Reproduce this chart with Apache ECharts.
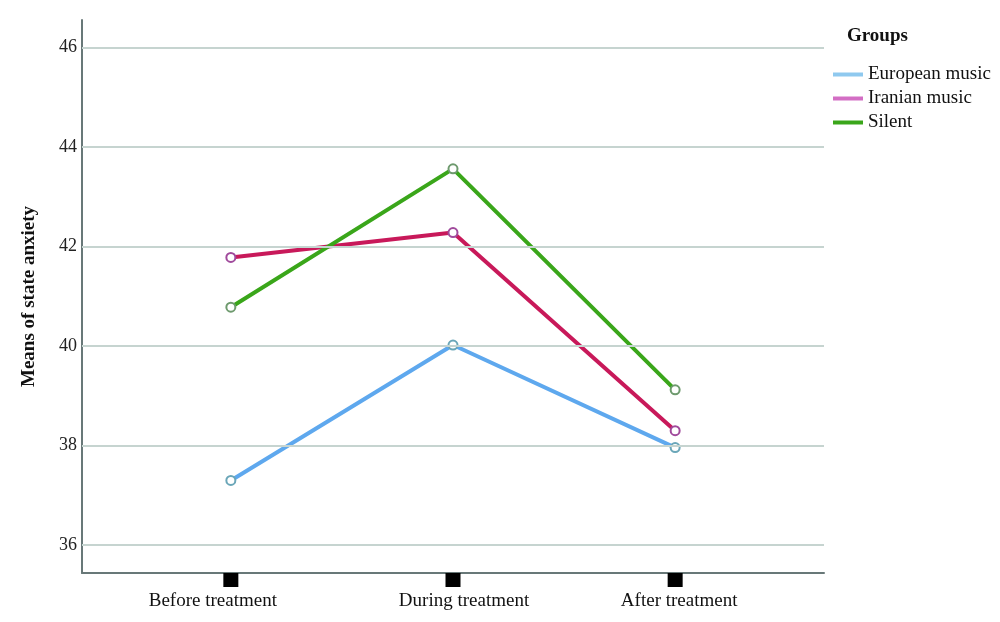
<!DOCTYPE html>
<html><head><meta charset="utf-8">
<script src="https://cdn.jsdelivr.net/npm/echarts@6/dist/echarts.min.js"></script>
<style>html,body{margin:0;padding:0;background:#fff}#c{width:1000px;height:622px}</style>
</head><body><div id="c"></div>
<script>
const categories = ['Before treatment', 'During treatment', 'After treatment'];
const seriesNames = ['European music', 'Iranian music', 'Silent'];
const european = [37.30, 40.02, 37.96];
const iranian = [41.78, 42.28, 38.30];
const silent = [40.78, 43.56, 39.12];
const yTicks = [36, 38, 40, 42, 44, 46];
const yMin = 35.44, yMax = 46.55;

const font = 'Liberation Serif';
const chart = echarts.init(document.getElementById('c'));
const idx = categories.map((_, i) => i);
const pts = arr => arr.map((v, i) => [i, v]);
// small per-label horizontal nudges, as in the reference
const labelPads = [[0, 36, 0, 0], [0, 0, 0, 22], [0, 0, 0, 8]];

function lineSeries(name, data, lineColor, markerColor) {
  return {
    name, type: 'line', data: pts(data), z: 3,
    symbol: 'emptyCircle', symbolSize: 9,
    lineStyle: { color: lineColor, width: 4 },
    itemStyle: { color: markerColor, borderWidth: 1.5 },
    emphasis: { disabled: true }
  };
}

const rich = {};
labelPads.forEach((p, i) => { rich['c' + i] = { padding: p, fontFamily: font, fontSize: 19, color: '#111' }; });

chart.setOption({
  animation: false,
  backgroundColor: '#fff',
  textStyle: { fontFamily: font },
  title: { text: 'Groups', left: 842, top: 22,
    textStyle: { fontFamily: font, fontSize: 19, fontWeight: 'bold', color: '#111' } },
  legend: {
    orient: 'vertical', left: 828, top: 60, itemWidth: 30, itemHeight: 4, itemGap: 5,
    icon: 'rect',
    textStyle: { fontFamily: font, fontSize: 19, color: '#111' },
    data: [
      { name: seriesNames[0], itemStyle: { color: '#8fc9ef' } },
      { name: seriesNames[1], itemStyle: { color: '#d36ec4' } },
      { name: seriesNames[2], itemStyle: { color: '#3aa61a' } }
    ]
  },
  grid: { left: 82, right: 176, top: 20, bottom: 49, containLabel: false, outerBoundsMode: 'none' },
  xAxis: {
    type: 'value', min: -0.67, max: 2.67,
    axisLine: { show: true, onZero: false, lineStyle: { color: '#687878', width: 2 } },
    axisTick: { show: false },
    splitLine: { show: false },
    axisLabel: { customValues: idx,
      formatter: v => { const i = Math.round(v); return categories[i] ? '{c' + i + '|' + categories[i] + '}' : ''; },
      rich, margin: 19, fontFamily: font, fontSize: 19, color: '#111' }
  },
  yAxis: {
    type: 'value', min: yMin, max: yMax,
    name: 'Means of state anxiety', nameLocation: 'middle', nameGap: 43,
    nameTextStyle: { fontFamily: font, fontSize: 19, fontWeight: 'bold', color: '#111' },
    axisLine: { show: true, onZero: false, lineStyle: { color: '#687878', width: 2 } },
    axisTick: { show: false },
    splitLine: { show: false },
    axisLabel: { customValues: yTicks, margin: 5, fontFamily: font, fontSize: 18, color: '#222' }
  },
  series: [
    lineSeries(seriesNames[0], european, '#5ea8ee', '#6aa6b8'),
    lineSeries(seriesNames[1], iranian, '#c8195a', '#a04a9c'),
    lineSeries(seriesNames[2], silent, '#3aa61a', '#6e9a6e'),
    {
      name: 'ticks', type: 'scatter', z: 1, silent: true, clip: false,
      data: idx.map(i => [i, yMin]),
      symbol: 'rect', symbolSize: [15, 14], symbolOffset: [0, 7],
      itemStyle: { color: '#000', opacity: 1 },
      markLine: {
        silent: true, symbol: 'none', label: { show: false },
        lineStyle: { color: '#c6d4d0', width: 2, type: 'solid', opacity: 1 },
        data: yTicks.map(t => ({ yAxis: t }))
      }
    }
  ]
});
</script></body></html>
